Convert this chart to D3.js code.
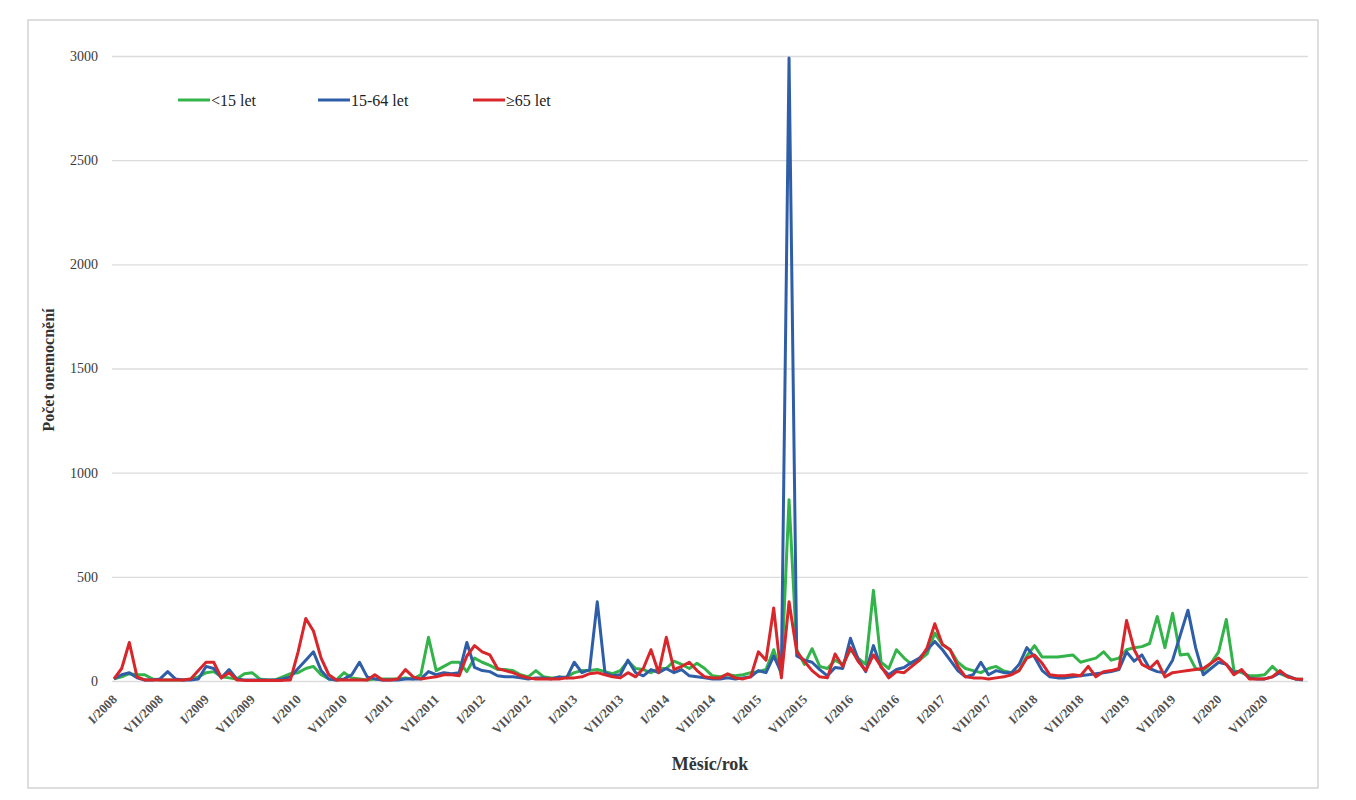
<!DOCTYPE html>
<html>
<head>
<meta charset="utf-8">
<script src="https://cdn.jsdelivr.net/npm/d3@7"></script>
<style>
  body { margin: 0; background: #fff; }
  svg text { font-family: "Liberation Serif", "Times New Roman", serif; }
</style>
</head>
<body>
<div id="chart"></div>
<script>
// monthly counts I/2008 .. XII/2020
const years = d3.range(2008, 2021)
const seriesNames = ["<15 let", "15-64 let", "\u226565 let"]
const seriesColors = ["#33b44a", "#2f5ea8", "#d8262b"]

const under15 = [
  10, 20, 35, 30, 30, 10, 5, 5, 5, 5, 10, 20,
  40, 45, 20, 15, 10, 35, 40, 10, 5, 5, 20, 35,
  40, 60, 70, 30, 10, 5, 40, 15, 10, 5, 10, 10,
  10, 10, 15, 10, 30, 210, 50, 70, 90, 90, 45, 110,
  90, 75, 55, 55, 50, 30, 20, 50, 20, 15, 15, 20,
  40, 50, 50, 55, 45, 35, 50, 95, 60, 55, 40, 60,
  60, 95, 80, 60, 85, 60, 25, 20, 30, 25, 30, 40,
  45, 55, 150, 30, 870, 150, 80, 155, 70, 60, 100, 80,
  150, 110, 80, 435, 90, 60, 150, 110, 80, 100, 130, 230,
  175, 150, 90, 60, 50, 40, 60, 70, 48, 40, 50, 120,
  170, 115, 115, 115, 120, 125, 90, 100, 110, 140, 100, 110,
  150, 160, 165, 180, 310, 160, 325, 125, 130, 60, 50, 85,
  140, 295, 50, 40, 25, 25, 30, 70, 35, 20, 10, 8
]

const age15to64 = [
  10, 30, 40, 15, 5, 5, 10, 45, 10, 5, 5, 10,
  70, 60, 15, 55, 10, 5, 5, 5, 5, 5, 10, 20,
  60, 100, 140, 50, 10, 5, 10, 30, 90, 20, 10, 5,
  5, 5, 10, 10, 10, 45, 30, 40, 35, 40, 185, 65,
  50, 45, 25, 20, 20, 15, 10, 15, 15, 10, 20, 15,
  90, 40, 55, 380, 40, 25, 30, 100, 40, 25, 55, 40,
  60, 40, 55, 25, 20, 15, 10, 10, 15, 10, 15, 20,
  50, 40, 120, 40, 2990, 120, 100, 90, 55, 25, 65, 60,
  205, 105, 45, 170, 65, 30, 55, 65, 90, 110, 150, 190,
  150, 100, 50, 20, 30, 90, 30, 50, 40, 40, 80, 160,
  115, 50, 20, 15, 15, 20, 25, 30, 35, 40, 45, 55,
  140, 95, 125, 60, 45, 40, 100, 220, 340, 160, 30, 60,
  90, 80, 40, 50, 15, 10, 10, 20, 40, 25, 10, 5
]

const over65 = [
  10, 60, 185, 20, 5, 5, 5, 5, 5, 5, 10, 50,
  90, 90, 15, 40, 5, 3, 3, 3, 3, 3, 3, 5,
  140, 300, 240, 110, 30, 5, 5, 5, 5, 5, 30, 5,
  5, 10, 55, 20, 10, 15, 20, 30, 30, 25, 120, 170,
  140, 125, 60, 50, 40, 25, 15, 10, 10, 10, 10, 15,
  15, 20, 35, 40, 30, 20, 15, 40, 20, 60, 150, 40,
  210, 55, 70, 90, 50, 20, 15, 15, 35, 15, 10, 20,
  140, 100, 350, 15, 380, 140, 95, 50, 20, 15, 130, 70,
  160, 95, 50, 125, 70, 15, 45, 40, 70, 100, 160, 275,
  175, 150, 70, 20, 15, 15, 10, 15, 20, 30, 50, 110,
  125, 85, 30, 25, 25, 30, 25, 70, 20, 45, 50, 60,
  290, 150, 80, 60, 95, 20, 40, 45, 50, 55, 60, 85,
  110, 80, 30, 55, 10, 10, 10, 20, 50, 20, 10, 8
]

const yTicks = [0, 500, 1000, 1500, 2000, 2500, 3000]

// month labels, one every half year
const months = []
years.forEach(y => d3.range(12).forEach(m => months.push({year: y, month: m})))
const tickIdx = d3.range(0, months.length, 6)
const tickLabel = i => (months[i].month === 0 ? "I/" : "VII/") + months[i].year

let svg = d3.select("#chart")
  .append("svg")
  .attr("width", 1356)
  .attr("height", 800)

// outer frame
svg.append("rect")
  .attr("x", 28).attr("y", 20)
  .attr("width", 1290).attr("height", 768)
  .attr("fill", "#fff")
  .attr("stroke", "#c8c8c8")
  .attr("stroke-width", 1.2)

let margin = {top: 56, left: 114, right: 1303, bottom: 681}

let x = d3.scaleLinear()
  .domain([0, months.length - 1])
  .range([margin.left, margin.right])

let y = d3.scaleLinear()
  .domain([0, 3000])
  .range([margin.bottom, margin.top])

// gridlines + y labels
let yAxis = svg.append("g")
  .attr("transform", "translate(112,0)")
  .call(d3.axisLeft(y).tickValues(yTicks).tickSize(-1196).tickPadding(14).tickFormat(d3.format("d")))
yAxis.select(".domain").remove()
yAxis.selectAll(".tick line").attr("stroke", "#dcdcdc").attr("stroke-width", 1.3)
yAxis.selectAll(".tick text")
  .style("font-size", "14px")
  .style("font-family", "Liberation Serif")
  .attr("fill", "#3a3a3a")

// x labels, rotated
let xAxis = svg.append("g")
  .attr("transform", "translate(0," + (margin.bottom + 4) + ")")
  .call(d3.axisBottom(x).tickValues(tickIdx).tickSize(0).tickFormat(tickLabel))
xAxis.select(".domain").remove()
xAxis.selectAll(".tick text")
  .style("font-size", "13px")
  .style("font-weight", "bold")
  .style("font-family", "Liberation Serif")
  .attr("fill", "#505050")
  .attr("text-anchor", "end")
  .attr("y", 0)
  .attr("dy", "0.35em")
  .attr("transform", "translate(0,12) rotate(-45)")

// series lines
let allSeries = [under15, age15to64, over65]
let line = d3.line()
  .x((d, i) => x(i))
  .y(d => y(d))

svg.selectAll(".series")
  .data(allSeries)
  .enter()
  .append("path")
  .attr("class", "series")
  .attr("d", d => line(d))
  .attr("fill", "none")
  .attr("stroke", (d, i) => seriesColors[i])
  .attr("stroke-width", 3)
  .attr("stroke-linejoin", "round")

// legend
let legendX = [178, 318, 473]
let legend = svg.selectAll(".legend")
  .data(seriesNames)
  .enter()
  .append("g")
  .attr("class", "legend")
  .attr("transform", (d, i) => "translate(" + legendX[i] + ",100)")

legend.append("line")
  .attr("x1", 0).attr("x2", 32)
  .attr("stroke", (d, i) => seriesColors[i])
  .attr("stroke-width", 3)

legend.append("text")
  .attr("x", 33)
  .attr("dy", "0.35em")
  .style("font-size", "16px")
  .attr("fill", "#222")
  .text(d => d)

// axis titles
svg.append("text")
  .attr("transform", "translate(54,370) rotate(-90)")
  .style("text-anchor", "middle")
  .style("font-size", "16px")
  .style("font-weight", "bold")
  .attr("fill", "#333")
  .text("Počet onemocnění")

svg.append("text")
  .attr("x", 710)
  .attr("y", 770)
  .style("text-anchor", "middle")
  .style("font-size", "18px")
  .style("font-weight", "bold")
  .attr("fill", "#333")
  .text("Měsíc/rok")
</script>
</body>
</html>
